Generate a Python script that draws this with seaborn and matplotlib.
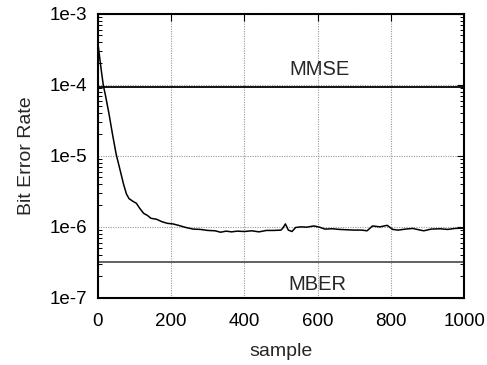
import matplotlib
matplotlib.use("Agg")
import matplotlib.pyplot as plt
import seaborn as sns
import pandas as pd
from matplotlib.ticker import LogLocator, NullFormatter, FixedLocator

sample = [0, 5, 10, 15, 20, 30, 40, 50, 60, 70, 78, 85, 95, 105, 115, 125, 135, 145,
          160, 175, 190, 205, 220, 240, 260, 280, 300, 320, 335, 350, 365, 380, 400,
          420, 440, 460, 480, 500, 505, 512, 520, 530, 540, 555, 570, 590, 605, 620,
          640, 660, 680, 700, 720, 735, 750, 770, 790, 805, 820, 840, 860, 880, 890,
          910, 935, 955, 975, 1000]
ber = [3.9e-4, 2.4e-4, 1.5e-4, 9.7e-5, 7.4e-5, 4.0e-5, 2.0e-5, 1.05e-5, 6.5e-6, 4.0e-6,
       2.9e-6, 2.5e-6, 2.3e-6, 2.15e-6, 1.8e-6, 1.55e-6, 1.45e-6, 1.32e-6,
       1.28e-6, 1.18e-6, 1.12e-6, 1.10e-6, 1.05e-6, 9.8e-7, 9.3e-7, 9.2e-7, 8.9e-7,
       8.8e-7, 8.4e-7, 8.7e-7, 8.5e-7, 8.7e-7, 8.6e-7, 8.8e-7, 8.5e-7, 8.9e-7, 8.9e-7,
       9.0e-7, 9.6e-7, 1.1e-6, 9.0e-7, 8.6e-7, 9.8e-7, 1.0e-6, 9.9e-7, 1.03e-6, 9.9e-7,
       9.3e-7, 9.4e-7, 9.2e-7, 9.1e-7, 9.0e-7, 9.0e-7, 8.8e-7, 1.03e-6, 1.0e-6, 1.05e-6,
       9.2e-7, 9.0e-7, 9.3e-7, 9.5e-7, 9.0e-7, 8.8e-7, 9.3e-7, 9.4e-7, 9.2e-7, 9.5e-7,
       9.6e-7]
mmse_level = 9.4e-5
mber_level = 3.15e-7
ref_labels = ["MMSE", "MBER"]
x_ticks = [0, 200, 400, 600, 800, 1000]
y_ticks = [1e-7, 1e-6, 1e-5, 1e-4, 1e-3]
y_tick_labels = ["1e-7", "1e-6", "1e-5", "1e-4", "1e-3"]

sns.set_theme(style="white")
plt.rcParams["font.family"] = ["Liberation Sans", "DejaVu Sans"]

fig = plt.figure(figsize=(4.87, 3.65), dpi=100)
ax = fig.add_axes([0.201, 0.184, 0.752, 0.778])

df = pd.DataFrame({"sample": sample, "ber": ber})
sns.lineplot(data=df, x="sample", y="ber", ax=ax, color="black", linewidth=1.1)

ax.axhline(mmse_level, color="black", linewidth=1.3)
ax.axhline(mber_level, color="#555555", linewidth=1.3)

ax.set_yscale("log")
ax.set_xlim(0, 1000)
ax.set_ylim(1e-7, 1e-3)
ax.yaxis.set_major_locator(FixedLocator(y_ticks))
ax.set_yticks(y_ticks)
ax.set_yticklabels(y_tick_labels)
ax.yaxis.set_minor_locator(LogLocator(base=10, subs=[2, 3, 4, 5, 6, 7, 8, 9]))
ax.yaxis.set_minor_formatter(NullFormatter())
ax.set_xticks(x_ticks)

ax.grid(True, which="major", linestyle=(0, (1, 1.2)), color="#999999", linewidth=0.8)
ax.tick_params(which="both", direction="in", top=True, right=True, labelsize=13.5,
               colors="black")
ax.tick_params(which="major", length=5, width=0.8)
ax.tick_params(which="minor", length=3, width=0.7, left=True, right=True,
               top=False, bottom=False)
ax.tick_params(axis="y", pad=8)
ax.tick_params(axis="x", pad=11)
for s in ax.spines.values():
    s.set_color("black")
    s.set_linewidth(1.5)

ax.set_xlabel("sample", fontsize=14, labelpad=9)
ax.set_ylabel("Bit Error Rate", fontsize=14, labelpad=10)

ax.text(605, 1.22e-4, ref_labels[0], ha="center", va="bottom", fontsize=14.5)
ax.text(600, 1.55e-7, ref_labels[1], ha="center", va="center", fontsize=14.5)

fig.savefig("out.png", dpi=100)
